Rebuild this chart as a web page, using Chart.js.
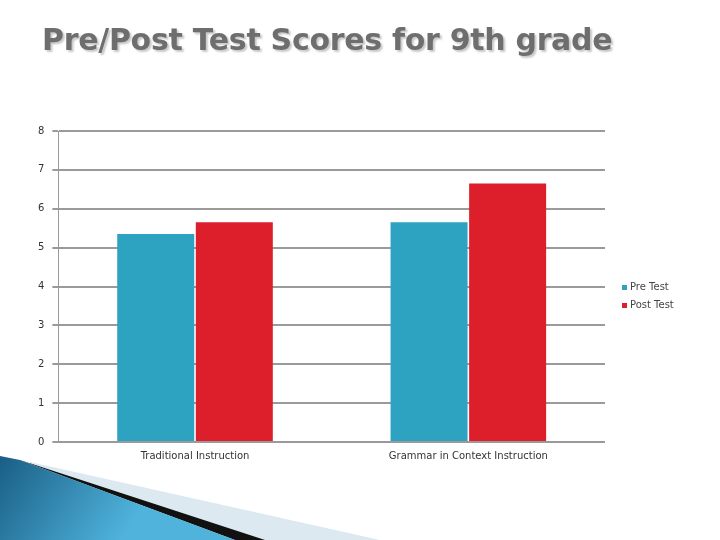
<!DOCTYPE html>
<html>
<head>
<meta charset="utf-8">
<script src="https://cdn.jsdelivr.net/npm/chart.js@4/dist/chart.umd.min.js"></script>
<style>
  body { margin: 0; width: 720px; height: 540px; background: #fff; position: relative; overflow: hidden; font-family: "DejaVu Sans", sans-serif; }
  #deco { position: absolute; left: 0; top: 0; }
  #title { position: absolute; left: 42px; top: 22px; font-size: 30px; font-weight: bold; color: #6e6e6e; letter-spacing: -0.3px;
           text-shadow: 2px 2px 2px #c8c8c8; white-space: nowrap; }
  #wrap { position: absolute; left: 0; top: 117px; width: 720px; height: 345px; }
  #legend { position: absolute; left: 622px; top: 278px; font-size: 10px; color: #444; line-height: 18px; }
  #legend span { display: inline-block; width: 5px; height: 5px; margin-right: 3px; vertical-align: middle; }
</style>
</head>
<body>
<canvas id="deco" width="720" height="540"></canvas>
<div id="title">Pre/Post Test Scores for 9th grade</div>
<div id="wrap"><canvas id="c"></canvas></div>
<div id="legend"></div>
<script>
const categories = ["Traditional Instruction", "Grammar in Context Instruction"];
const preTest = [5.35, 5.65];
const postTest = [5.65, 6.65];
const yTicks = [0, 1, 2, 3, 4, 5, 6, 7, 8];
const seriesNames = ["Pre Test", "Post Test"];
const seriesColors = ["#2ea2c1", "#dc1f2b"];

// bottom-left decorative swoosh
(function drawDeco() {
  const ctx = document.getElementById("deco").getContext("2d");
  ctx.fillStyle = "#dce9f0";
  ctx.beginPath();
  ctx.moveTo(30, 462); ctx.lineTo(380, 540); ctx.lineTo(0, 540); ctx.closePath(); ctx.fill();
  ctx.fillStyle = "#111";
  ctx.beginPath();
  ctx.moveTo(20, 460); ctx.lineTo(265, 540); ctx.lineTo(235, 540); ctx.closePath(); ctx.fill();
  const g = ctx.createLinearGradient(0, 460, 120, 540);
  g.addColorStop(0, "#1a5f86"); g.addColorStop(1, "#4fb3dc");
  ctx.fillStyle = g;
  ctx.beginPath();
  ctx.moveTo(0, 456); ctx.lineTo(20, 460); ctx.lineTo(235, 540); ctx.lineTo(0, 540); ctx.closePath(); ctx.fill();
})();

document.getElementById("legend").innerHTML = seriesNames
  .map((n, i) => `<div><span style="background:${seriesColors[i]}"></span>${n}</div>`).join("");

new Chart(document.getElementById("c"), {
  type: "bar",
  data: {
    labels: categories,
    datasets: [
      { label: seriesNames[0], data: preTest, backgroundColor: seriesColors[0] },
      { label: seriesNames[1], data: postTest, backgroundColor: seriesColors[1] },
    ],
  },
  options: {
    responsive: true,
    maintainAspectRatio: false,
    animation: false,
    layout: { padding: { left: 30, right: 115, top: 10, bottom: 0 } },
    datasets: { bar: { barPercentage: 0.98, categoryPercentage: 0.575 } },
    plugins: { legend: { display: false }, tooltip: { enabled: false } },
    scales: {
      y: {
        min: 0, max: 8,
        afterBuildTicks: s => { s.ticks = yTicks.map(v => ({ value: v })); },
        grid: { color: "#9a9a9a", lineWidth: 2, drawTicks: true, tickLength: 6 },
        border: { display: true, color: "#9a9a9a" },
        ticks: { font: { size: 10, family: "DejaVu Sans" }, color: "#333", padding: 8 },
      },
      x: {
        grid: { display: false },
        border: { display: false },
        ticks: { font: { size: 10, family: "DejaVu Sans" }, color: "#333", padding: 0 },
      },
    },
  },
});
</script>
</body>
</html>
